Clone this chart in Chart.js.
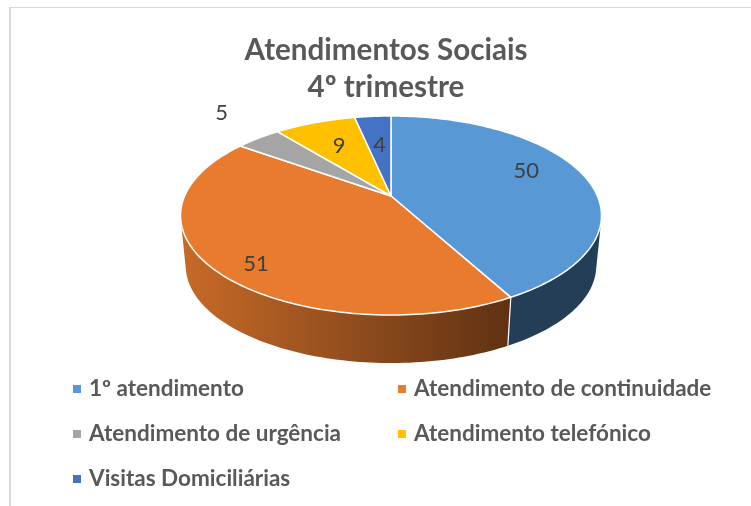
<!DOCTYPE html>
<html>
<head>
<meta charset="utf-8">
<style>html,body{margin:0;padding:0;background:#fff}canvas{display:block}</style>
<script src="https://cdn.jsdelivr.net/npm/chart.js@4"></script>
</head>
<body>
<canvas id="c" width="751" height="506"></canvas>
<script>
const titleLines = ['Atendimentos Sociais', '4º trimestre'];
const categories = ['1º atendimento', 'Atendimento de continuidade', 'Atendimento de urgência', 'Atendimento telefónico', 'Visitas Domiciliárias'];
const values = [50, 51, 5, 9, 4];
const colors = ['#5898D5', '#E97B2F', '#A5A5A5', '#FFC000', '#4472C4'];
const labelNudgeX = [0, -16, -73, 4, 2];
const labelNudgeY = [-9, 19, -41, 4, 8];

// Perspective view of the pie disc
const view = { x0: 391, y0: 196, A: 206.4, B: 95.7, a: 0.196, depthY: 51, depthScale: 0.975 };
function project(theta, r, lower) {
  const u = r * Math.sin(theta), v = r * Math.cos(theta), w = 1 + view.a * v;
  const s = lower ? view.depthScale : 1;
  return { x: view.x0 + s * view.A * u / w, y: view.y0 + (lower ? view.depthY : 0) - s * view.B * v / w };
}
function shade(hex, f) {
  const n = parseInt(hex.slice(1), 16);
  return `rgb(${Math.round((n >> 16 & 255) * f)},${Math.round((n >> 8 & 255) * f)},${Math.round((n & 255) * f)})`;
}

const pie3d = {
  id: 'pie3d',
  beforeDraw(chart) {
    const ctx = chart.ctx;
    ctx.save();
    ctx.fillStyle = '#D9D9D9';
    ctx.fillRect(9, 7, 742, 1);
    ctx.fillRect(9, 7, 2, 499);
    ctx.restore();
  },
  beforeDatasetDraw(chart, args) {
    const ctx = chart.ctx;
    const arcs = chart.getDatasetMeta(args.index).data;
    const range = arcs.map(a => [a.startAngle + Math.PI / 2, a.endAngle + Math.PI / 2]);
    const steps = 120;
    ctx.save();
    // side wall: one path of equally oriented quads, so the union fills without seams
    arcs.forEach((a, i) => {
      const [t0, t1] = range[i];
      const g = ctx.createLinearGradient(187, 0, 508, 0);
      g.addColorStop(0, shade(colors[i], 0.85));
      g.addColorStop(1, shade(colors[i], 0.41));
      ctx.beginPath();
      for (let k = 0; k < steps; k++) {
        const s0 = t0 + (t1 - t0) * k / steps, s1 = t0 + (t1 - t0) * (k + 1) / steps;
        let pts = [project(s0, 1, false), project(s1, 1, false), project(s1, 1, true), project(s0, 1, true)];
        let area = 0;
        pts.forEach((p, j) => { const n = pts[(j + 1) % 4]; area += p.x * n.y - n.x * p.y; });
        if (area < 0) pts = pts.reverse();
        pts.forEach((p, j) => j ? ctx.lineTo(p.x, p.y) : ctx.moveTo(p.x, p.y));
        ctx.closePath();
      }
      ctx.fillStyle = g;
      ctx.fill('nonzero');
    });
    arcs.forEach((a, i) => {
      const p = project(range[i][0], 1, false), q = project(range[i][0], 1, true);
      ctx.beginPath(); ctx.moveTo(p.x, p.y); ctx.lineTo(q.x, q.y);
      ctx.strokeStyle = '#fff'; ctx.lineWidth = 1.2; ctx.stroke();
    });
    // top face
    arcs.forEach((a, i) => {
      const [t0, t1] = range[i];
      const c = project(0, 0, false);
      ctx.beginPath();
      ctx.moveTo(c.x, c.y);
      for (let k = 0; k <= steps; k++) {
        const p = project(t0 + (t1 - t0) * k / steps, 1, false);
        ctx.lineTo(p.x, p.y);
      }
      ctx.closePath();
      ctx.fillStyle = colors[i];
      ctx.fill();
      ctx.strokeStyle = '#fff';
      ctx.lineWidth = 1.5;
      ctx.lineJoin = 'round';
      ctx.stroke();
    });
    ctx.restore();
    return false;
  },
  afterDraw(chart) {
    const ctx = chart.ctx;
    const arcs = chart.getDatasetMeta(0).data;
    ctx.save();
    // value labels
    ctx.font = '22px Lato';
    ctx.fillStyle = '#404040';
    ctx.textAlign = 'center';
    ctx.textBaseline = 'middle';
    arcs.forEach((a, i) => {
      const p = project((a.startAngle + a.endAngle) / 2 + Math.PI / 2, 0.7, false);
      ctx.fillText(String(chart.data.datasets[0].data[i]), p.x + labelNudgeX[i], p.y + labelNudgeY[i]);
    });
    // legend
    const colX = [73, 398], rowY = [389, 434, 479];
    const order = [[0, 0], [0, 1], [1, 0], [1, 1], [2, 0]];
    ctx.font = 'bold 22.5px Lato';
    ctx.textAlign = 'left';
    chart.data.labels.forEach((t, i) => {
      const [row, col] = order[i];
      ctx.fillStyle = colors[i];
      ctx.fillRect(colX[col], rowY[row] - 4, 8, 8);
      ctx.fillStyle = '#595959';
      ctx.fillText(t, colX[col] + 16, rowY[row]);
    });
    ctx.restore();
  }
};

new Chart(document.getElementById('c'), {
  type: 'pie',
  data: { labels: categories, datasets: [{ data: values, backgroundColor: colors, borderColor: '#fff' }] },
  options: {
    responsive: false,
    animation: false,
    layout: { padding: { left: 21, top: 32, bottom: 191 } },
    plugins: {
      legend: { display: false },
      tooltip: { enabled: false },
      title: {
        display: true,
        text: titleLines,
        color: '#595959',
        font: { family: 'Lato', size: 29.6, weight: 'bold', lineHeight: 1.25 },
        padding: 0
      }
    }
  },
  plugins: [pie3d]
});
</script>
</body>
</html>
